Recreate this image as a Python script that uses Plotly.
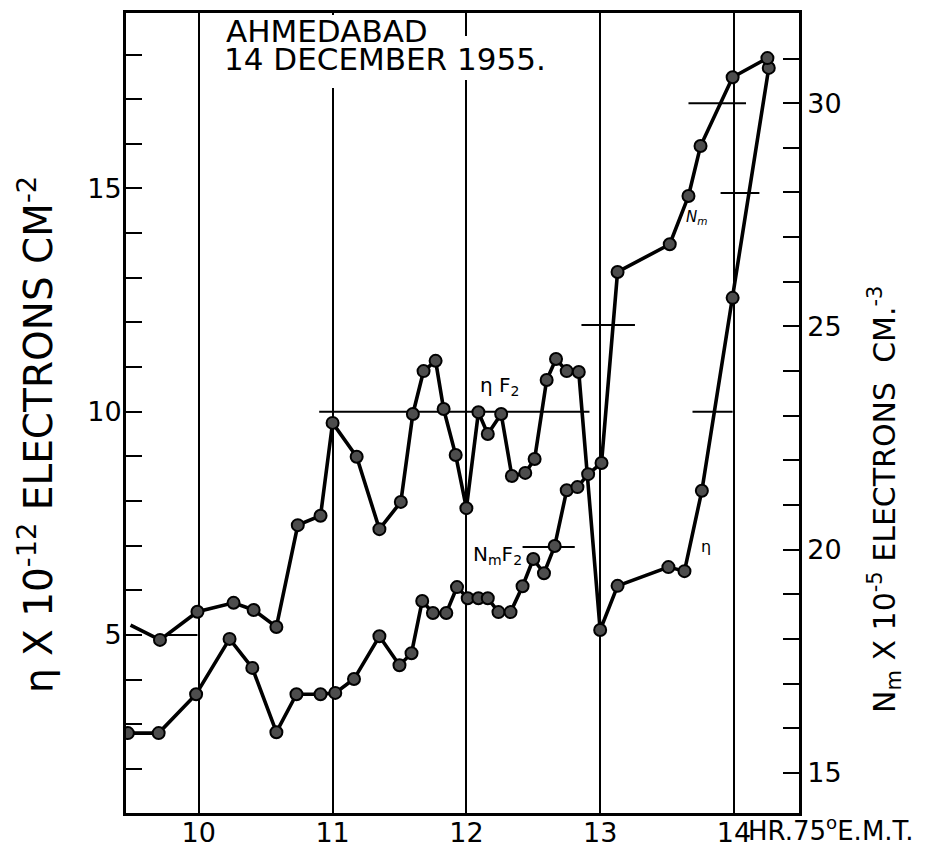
import plotly.graph_objects as go

# ---------------- data ----------------
# Total electron content n (x 10^-12 electrons cm^-2), left axis
hours_n = [9.49, 9.71, 9.99, 10.26, 10.41, 10.58, 10.74, 10.91, 11.00, 11.18,
           11.35, 11.51, 11.60, 11.68, 11.77, 11.83, 11.92, 12.00, 12.09, 12.16,
           12.26, 12.34, 12.44, 12.51, 12.60, 12.67, 12.75, 12.84, 13.00, 13.13,
           13.51, 13.63, 13.76, 13.99, 14.26]
n_vals = [5.22, 4.89, 5.52, 5.72, 5.56, 5.18, 7.46, 7.67, 9.75, 8.99,
          7.37, 7.98, 9.95, 10.91, 11.14, 10.06, 9.03, 7.84, 9.99, 9.50,
          9.95, 8.56, 8.63, 8.94, 10.71, 11.18, 10.91, 10.89, 5.11, 6.10,
          6.52, 6.43, 8.23, 12.55, 17.70]

# Peak electron density Nm (x 10^-5 electrons cm^-3), right axis
hours_nm = [9.47, 9.70, 9.98, 10.23, 10.40, 10.58, 10.73, 10.91, 11.02, 11.16,
            11.35, 11.50, 11.59, 11.67, 11.75, 11.85, 11.93, 12.01, 12.09, 12.16,
            12.24, 12.33, 12.42, 12.50, 12.58, 12.66, 12.75, 12.83, 12.91, 13.01,
            13.13, 13.52, 13.66, 13.75, 13.99, 14.25]
nm_vals = [15.89, 15.89, 16.76, 18.00, 17.35, 15.91, 16.76, 16.76, 16.79, 17.10,
           18.06, 17.41, 17.68, 18.85, 18.58, 18.58, 19.16, 18.91, 18.91, 18.91,
           18.60, 18.60, 19.18, 19.79, 19.47, 20.08, 21.33, 21.40, 21.69, 21.94,
           26.22, 26.84, 27.92, 29.04, 30.58, 31.01]

# Short horizontal reference bars (start hour, end hour, level in left-axis units)
bar_start = [9.76, 10.90, 12.42, 12.86, 13.66, 13.69, 13.90]
bar_end = [9.99, 12.92, 12.81, 13.26, 14.09, 13.99, 14.19]
bar_level = [5.00, 10.00, 6.97, 11.94, 16.91, 10.00, 14.90]

hour_ticks = [10, 11, 12, 13, 14]
hour_labels = ["10", "11", "12", "13", "14"]
left_ticks = [5, 10, 15]
right_ticks = [15, 20, 25, 30]

# ---------------- figure ----------------
FONT = "DejaVu Sans"
# the page body adds an 8 px offset; the figure is sized to fit the window
OFF = 8
W, H = 940 - OFF, 848 - OFF
PL, PR, PT, PB = 126, 799, 13, 813   # plot area in page pixels

fig = go.Figure()

bx, by = [], []
for s, e, lv in zip(bar_start, bar_end, bar_level):
    bx += [s, e, None]
    by += [lv, lv, None]
fig.add_trace(go.Scatter(x=bx, y=by, mode="lines",
                         line=dict(color="black", width=2), yaxis="y",
                         hoverinfo="skip", showlegend=False))

marker_style = dict(size=12, color="#4d4d4d", line=dict(color="black", width=2))

# n curve: line through all points, markers from the second point on
fig.add_trace(go.Scatter(x=hours_n, y=n_vals, mode="lines",
                         line=dict(color="black", width=3.6), yaxis="y",
                         showlegend=False))
fig.add_trace(go.Scatter(x=hours_n[1:], y=n_vals[1:], mode="markers",
                         marker=marker_style, yaxis="y", showlegend=False))

# Nm curve
fig.add_trace(go.Scatter(x=hours_nm, y=nm_vals, mode="lines+markers",
                         line=dict(color="black", width=3.6),
                         marker=marker_style, yaxis="y2", showlegend=False))

tickfont = dict(family=FONT, size=27, color="black")

fig.update_layout(
    width=W, height=H,
    margin=dict(l=PL - OFF, r=W - (PR - OFF), t=PT - OFF, b=H - (PB - OFF),
                autoexpand=False),
    paper_bgcolor="white", plot_bgcolor="white",
    xaxis=dict(range=[9.456, 14.486], tickvals=hour_ticks, ticktext=hour_labels,
               showgrid=True, gridcolor="black", gridwidth=1.6,
               showline=True, linecolor="black", linewidth=2.8, mirror=True,
               ticks="", tickfont=tickfont, zeroline=False, automargin=False,
               ticklabelstandoff=-6),
    yaxis=dict(range=[1.013, 18.93], tickvals=left_ticks,
               ticks="inside", ticklen=16, tickwidth=2, tickcolor="black",
               minor=dict(dtick=1, tick0=0, ticks="inside", ticklen=16,
                          tickwidth=2, tickcolor="black"),
               showgrid=False, zeroline=False, automargin=False,
               showline=True, linecolor="black", linewidth=2.8,
               tickfont=tickfont, ticklabelstandoff=-4),
    yaxis2=dict(range=[14.10, 32.02], tickvals=right_ticks, overlaying="y",
                side="right",
                ticks="inside", ticklen=16, tickwidth=2, tickcolor="black",
                minor=dict(dtick=1, tick0=0, ticks="inside", ticklen=16,
                           tickwidth=2, tickcolor="black"),
                showgrid=False, zeroline=False, automargin=False,
                showline=True, linecolor="black", linewidth=2.8,
                tickfont=tickfont, ticklabelstandoff=0),
)

PW, PH = PR - PL, PB - PT


def px(X):
    return (X - PL) / PW


def py(Y):
    return (PB - Y) / PH


# white box behind the title (interrupts the hour lines as in the original)
fig.add_shape(type="rect", xref="paper", yref="paper",
              x0=px(318), x1=px(350), y0=py(88), y1=py(15),
              fillcolor="white", line=dict(width=0), layer="above")
fig.add_shape(type="rect", xref="paper", yref="paper",
              x0=px(455), x1=px(485), y0=py(80), y1=py(36),
              fillcolor="white", line=dict(width=0), layer="above")

ann = []
ann.append(dict(text="AHMEDABAD", xref="paper", yref="paper",
                x=px(224), y=py(31), xanchor="left", yanchor="middle",
                showarrow=False, font=dict(family=FONT, size=31, color="black")))
ann.append(dict(text="14 DECEMBER 1955.", xref="paper", yref="paper",
                x=px(222), y=py(59), xanchor="left", yanchor="middle",
                showarrow=False, font=dict(family=FONT, size=31, color="black")))
ann.append(dict(text="η X 10<sup>-12</sup> ELECTRONS CM<sup>-2</sup>",
                xref="paper", yref="paper", x=px(36), y=py(435),
                xanchor="center", yanchor="middle", textangle=-90,
                showarrow=False, font=dict(family=FONT, size=39, color="black")))
ann.append(dict(text="N<sub>m</sub> X 10<sup>-5</sup> ELECTRONS  CM.<sup>-3</sup>",
                xref="paper", yref="paper", x=px(884), y=py(500),
                xanchor="center", yanchor="middle", textangle=-90,
                showarrow=False, font=dict(family=FONT, size=30, color="black")))
ann.append(dict(text="HR.75<sup>o</sup>E.M.T.", xref="paper", yref="paper",
                x=px(746), y=py(829), xanchor="left", yanchor="middle",
                showarrow=False, font=dict(family=FONT, size=26, color="black")))
ann.append(dict(text="η F<sub>2</sub>", x=12.25, y=10.58, xref="x", yref="y",
                showarrow=False, font=dict(family=FONT, size=20, color="black")))
ann.append(dict(text="N<sub>m</sub>F<sub>2</sub>", x=12.23, y=6.79, xref="x",
                yref="y", showarrow=False,
                font=dict(family=FONT, size=20, color="black")))
ann.append(dict(text="<i>N<sub>m</sub></i>", x=13.72, y=14.34, xref="x",
                yref="y", showarrow=False,
                font=dict(family=FONT, size=15, color="black")))
ann.append(dict(text="η", x=13.79, y=6.99, xref="x", yref="y",
                showarrow=False, font=dict(family=FONT, size=16, color="black")))
fig.update_layout(annotations=ann)

fig.write_html("out.html")
